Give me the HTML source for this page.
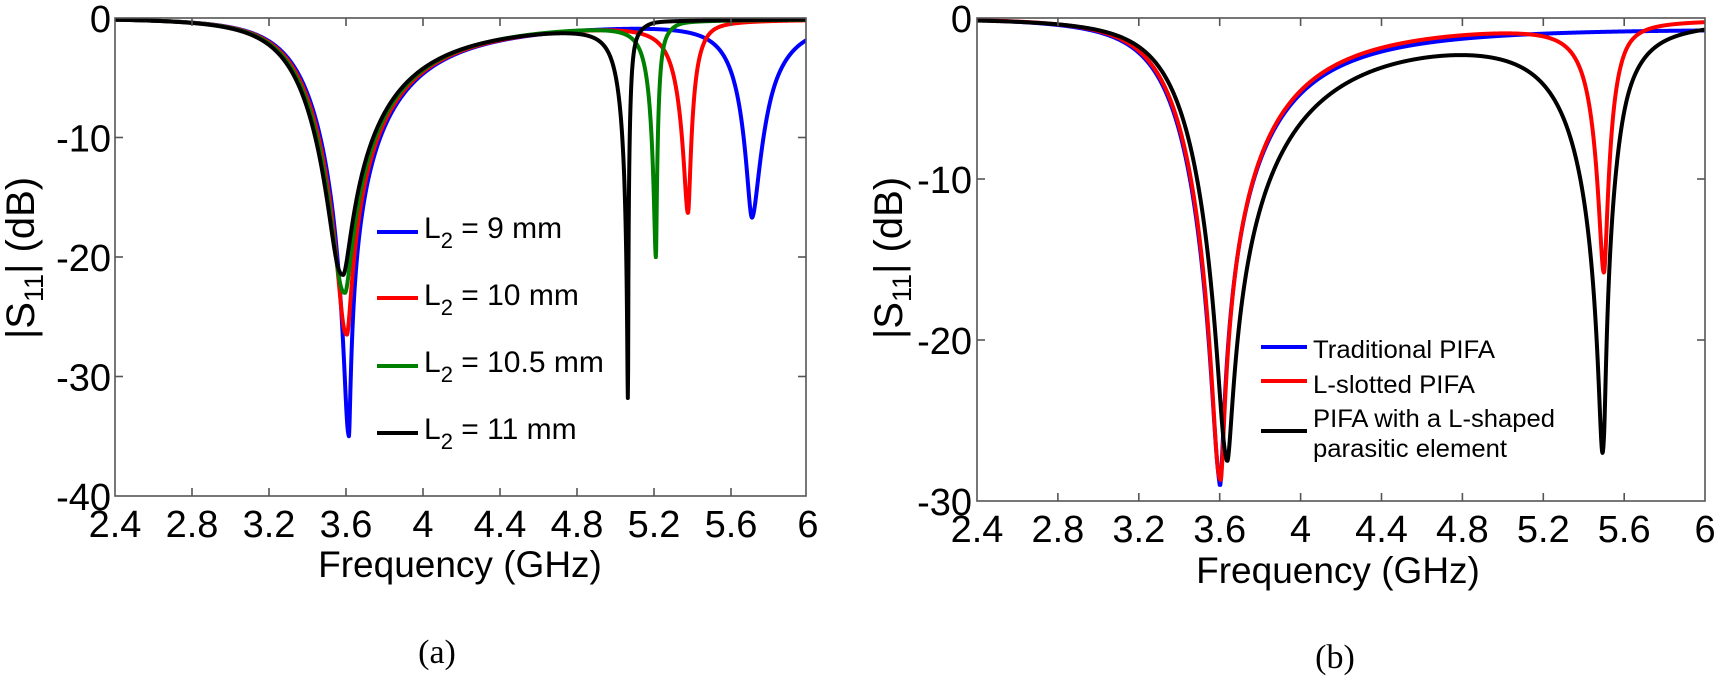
<!DOCTYPE html>
<html><head><meta charset="utf-8"><style>
html,body{margin:0;padding:0;background:#fff;}
svg{display:block;}
text{font-family:"Liberation Sans",Arial,sans-serif;fill:#000;}
</style></head><body>
<svg id="s" width="1716" height="677" viewBox="0 0 1716 677" xmlns="http://www.w3.org/2000/svg">
<defs>
<clipPath id="cl"><rect x="115" y="10" width="691" height="486"/></clipPath>
<clipPath id="cr"><rect x="977" y="10" width="728" height="491"/></clipPath>
</defs>
<g id="cL" clip-path="url(#cl)"></g>
<g id="cR" clip-path="url(#cr)"></g>
<g id="axes" fill="none" stroke="#555" stroke-width="1.6"></g>
<g id="labels"></g>
</svg>
<script>
const NS="http://www.w3.org/2000/svg";
function el(tag,attrs,parent,txt){const e=document.createElementNS(NS,tag);for(const k in attrs)e.setAttribute(k,attrs[k]);if(txt!==undefined)e.textContent=txt;(parent||document.getElementById('s')).appendChild(e);return e;}
function shape(f,r){const x=f-r.f0;const w=x<0?r.wL:r.wR;const p=x<0?(r.pL||2):(r.pR||2);return 1/(1+Math.pow(Math.abs(x)/w,p));}
function makeModel(rs,sup,lin){
  const amps=rs.map(()=>0.9);
  function sfac(f){if(rs.length<2||!sup)return 1;return 1-sup/(1+Math.exp(-(f-rs[1].f0-0.09)/0.02));}
  function extra(f){return lin?lin*(f-2.4)/3.6:0;}
  function P(f){let s=extra(f);rs.forEach((r,i)=>{s+=amps[i]*shape(f,r)*(i==0?sfac(f):1);});return s;}
  for(let it=0;it<8;it++){rs.forEach((r,i)=>{let other=extra(r.f0);rs.forEach((q,j)=>{if(j!=i)other+=amps[j]*shape(r.f0,q)*(j==0?sfac(r.f0):1);});amps[i]=(1-Math.pow(10,r.d/10)-other)/(i==0?sfac(r.f0):1);});}
  return f=>{let p=P(f);let g=1-p;const gmin=Math.pow(10,Math.min(...rs.map(r=>r.d))/10);if(g<gmin)g=gmin;return 10*Math.log10(g);};
}
function draw(model,X,Y,color,g){
  let d="";for(let f=2.4;f<=6.0001;f+=0.0015){const v=model(f);d+=(d?"L":"M")+X(f).toFixed(2)+","+Y(v).toFixed(2);}
  el('path',{d:d,fill:'none',stroke:color,'stroke-width':4,'stroke-linejoin':'round'},document.getElementById(g));
}
const d1=(f0,d,wR)=>({f0:f0,d:d,wL:0.335,pL:2.7,wR:wR||0.55,pR:1.8});
// Left plot
const XL=f=>115+(f-2.4)/0.4*77.0, YL=d=>18+(-d)/10*119.5;
draw(makeModel([d1(3.615,-35),{f0:5.71,d:-16.7,wL:0.14,wR:0.2}],0.3),XL,YL,'#0000ff','cL');
draw(makeModel([d1(3.605,-26.5),{f0:5.377,d:-16.3,wL:0.1,wR:0.06}],0.45),XL,YL,'#ff0000','cL');
draw(makeModel([d1(3.595,-23),{f0:5.21,d:-20,wL:0.065,wR:0.03}],0.5),XL,YL,'#008000','cL');
draw(makeModel([d1(3.585,-21.5),{f0:5.065,d:-31.8,wL:0.08,wR:0.025}],0.55),XL,YL,'#000000','cL');
// Right plot
const XR=f=>977+(f-2.4)/0.4*80.9, YR=d=>18+(-d)/10*161;
draw(makeModel([d1(3.6,-29)],0,0.1),XR,YR,'#0000ff','cR');
draw(makeModel([d1(3.605,-28.7),{f0:5.5,d:-15.8,wL:0.11,wR:0.08}],0.45),XR,YR,'#ff0000','cR');
draw(makeModel([d1(3.635,-27.5,0.7),{f0:5.5,d:-26,wL:0.3,wR:0.17}],0.35),XR,YR,'#000000','cR');

const ax=document.getElementById('axes'),lb=document.getElementById('labels');
function axes(x0,x1,y0,y1,X,yt,Yf){
  el('rect',{x:x0,y:y0,width:x1-x0,height:y1-y0},ax);
  for(let i=1;i<9;i++){const x=X(2.4+0.4*i);
    el('line',{x1:x,y1:y1,x2:x,y2:y1-8},ax);el('line',{x1:x,y1:y0,x2:x,y2:y0+8},ax);}
  yt.forEach(v=>{const y=Yf(v);if(v!==yt[0]&&v!==yt[yt.length-1]){el('line',{x1:x0,y1:y,x2:x0+8,y2:y},ax);el('line',{x1:x1,y1:y,x2:x1-8,y2:y},ax);}});
}
axes(115,806,18,496,XL,[0,-10,-20,-30,-40],YL);
axes(977,1705,18,501,XR,[0,-10,-20,-30],YR);
const xt=['2.4','2.8','3.2','3.6','4','4.4','4.8','5.2','5.6','6'];
xt.forEach((t,i)=>{el('text',{x:XL(2.4+0.4*i),y:537,'font-size':38,'text-anchor':'middle'},lb,t);el('text',{x:XR(2.4+0.4*i),y:542,'font-size':38,'text-anchor':'middle'},lb,t);});
[0,-10,-20,-30,-40].forEach(v=>{el('text',{x:111,y:YL(v)+14,'font-size':38,'text-anchor':'end'},lb,String(v));});
[0,-10,-20,-30].forEach(v=>{el('text',{x:972,y:YR(v)+14,'font-size':38,'text-anchor':'end'},lb,String(v));});
el('text',{x:460,y:577,'font-size':37,'text-anchor':'middle'},lb,'Frequency (GHz)');
el('text',{x:1338,y:583,'font-size':37,'text-anchor':'middle'},lb,'Frequency (GHz)');
let t=el('text',{transform:'translate(34,258) rotate(-90)','font-size':40,'text-anchor':'middle'},lb);
t.innerHTML='|S<tspan font-size="27" dy="9">11</tspan><tspan dy="-9">| (dB)</tspan>';
t=el('text',{transform:'translate(902,258) rotate(-90)','font-size':40,'text-anchor':'middle'},lb);
t.innerHTML='|S<tspan font-size="27" dy="9">11</tspan><tspan dy="-9">|  (dB)</tspan>';
el('text',{x:437,y:663,'font-size':34,'text-anchor':'middle','style':'font-family:"Liberation Serif",serif'},lb,'(a)');
el('text',{x:1335,y:668,'font-size':34,'text-anchor':'middle','style':'font-family:"Liberation Serif",serif'},lb,'(b)');
const LL=[['#0000ff','9 mm',232,238],['#ff0000','10 mm',298,305],['#008000','10.5 mm',366,372],['#000000','11 mm',433,439]];
LL.forEach(([c,s,ly,by])=>{
  el('line',{x1:377,y1:ly,x2:418,y2:ly,stroke:c,'stroke-width':4},lb);
  const tt=el('text',{x:424,y:by,'font-size':30},lb);
  tt.innerHTML='L<tspan font-size="22" dy="10">2</tspan><tspan dy="-10"> = '+s+'</tspan>';
});
const RL=[['#0000ff',347],['#ff0000',381],['#000000',431]];
RL.forEach(([c,y])=>el('line',{x1:1261,y1:y,x2:1307,y2:y,stroke:c,'stroke-width':4},lb));
[['Traditional PIFA',358,182],['L-slotted PIFA',393,162],['PIFA with a L-shaped',427,242],['parasitic element',457,194]].forEach(([s,y,w])=>{
  el('text',{x:1313,y:y,'font-size':25,textLength:w,lengthAdjust:'spacingAndGlyphs'},lb,s);
});
</script>
</body></html>
